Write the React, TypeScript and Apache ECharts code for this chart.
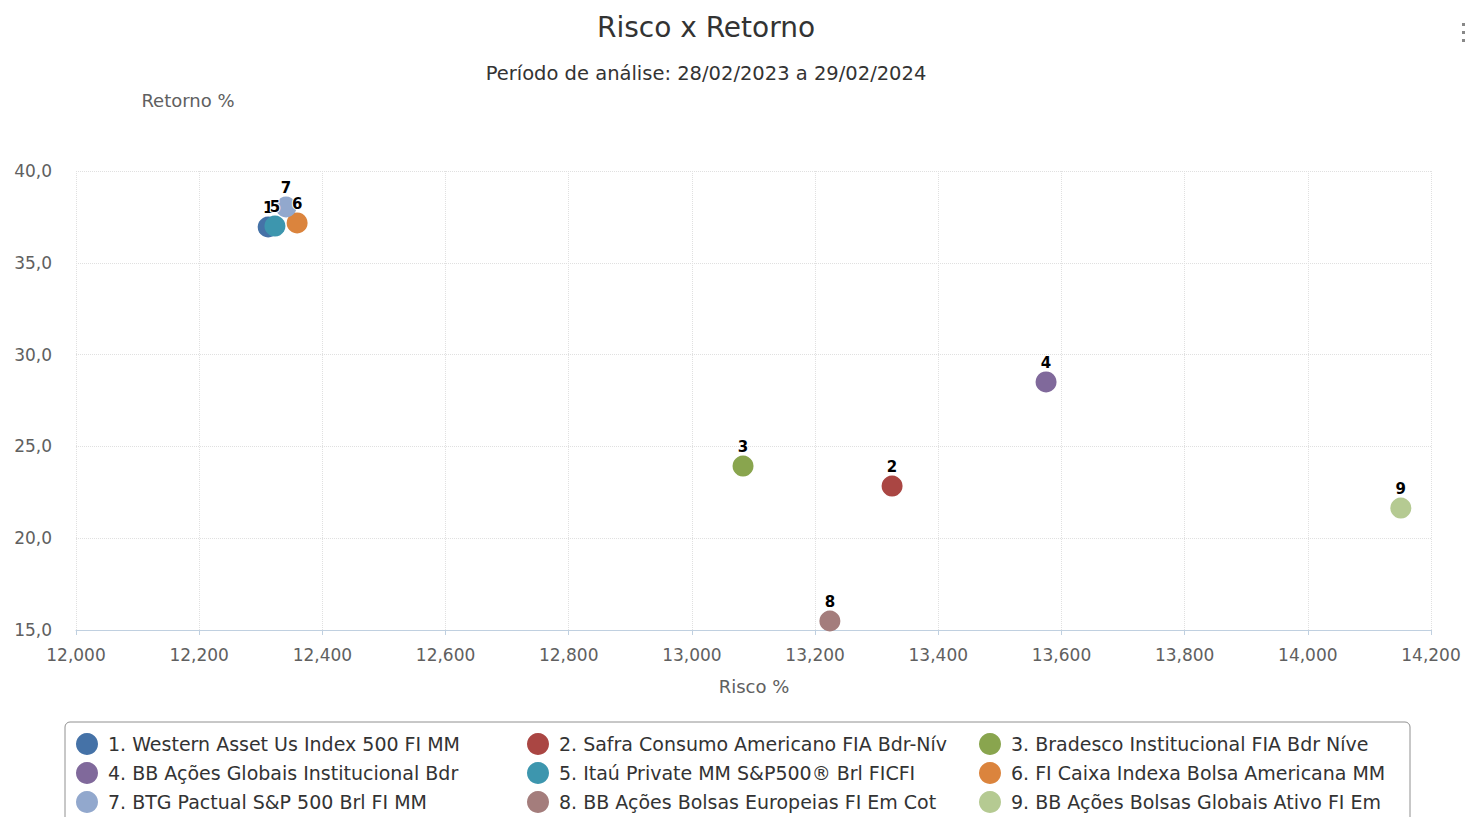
import React, { useEffect, useRef } from "react";
import * as echarts from "echarts";

const fundNames = [
  "1. Western Asset Us Index 500 FI MM",
  "2. Safra Consumo Americano FIA Bdr-Nív",
  "3. Bradesco Institucional FIA Bdr Níve",
  "4. BB Ações Globais Institucional Bdr",
  "5. Itaú Private MM S&P500® Brl FICFI",
  "6. FI Caixa Indexa Bolsa Americana MM",
  "7. BTG Pactual S&P 500 Brl FI MM",
  "8. BB Ações Bolsas Europeias FI Em Cot",
  "9. BB Ações Bolsas Globais Ativo FI Em",
];
const riskValues = [12.312, 13.325, 13.083, 13.575, 12.323, 12.359, 12.341, 13.224, 14.151];
const returnValues = [36.95, 22.84, 23.93, 28.51, 37.0, 37.17, 38.04, 15.49, 21.64];
const colors = ["#4572A7", "#AA4643", "#89A54E", "#80699B", "#3D96AE", "#DB843D", "#92A8CD", "#A47D7C", "#B5CA92"];
const titleText = "Risco x Retorno";
const subtitleText = "Período de análise: 28/02/2023 a 29/02/2024";

const FONT = "'DejaVu Sans', 'Open Sans', sans-serif";

export default function App() {
  const ref = useRef<HTMLDivElement>(null);
  useEffect(() => {
    if (!ref.current) return;
    const chart = echarts.init(ref.current, undefined, { renderer: "svg" });
    const series = fundNames.map((name, i) => ({
      type: "scatter",
      name,
      data: [[riskValues[i], returnValues[i]]],
      symbol: "circle",
      symbolSize: 21,
      itemStyle: { color: colors[i], opacity: 1 },
      label: {
        show: true,
        position: "top",
        distance: 1,
        formatter: String(i + 1),
        fontFamily: FONT,
        fontWeight: "bold",
        fontSize: 15,
        color: "#000",
        textBorderColor: "#fff",
        textBorderWidth: 2,
      },
    }));
    const cols = [0, 1, 2].map((c) => fundNames.filter((_, i) => i % 3 === c));
    const legendLefts = [76, 527, 979];
    chart.setOption({
      animation: false,
      textStyle: { fontFamily: FONT },
      grid: { left: 76, right: 34, top: 171, bottom: 187, containLabel: false },
      xAxis: {
        type: "value",
        min: 12.0,
        max: 14.2,
        interval: 0.2,
        axisLine: { show: true, lineStyle: { color: "#C0D0E0", width: 1 } },
        axisTick: { show: true, length: 5, lineStyle: { color: "#C0D0E0" } },
        axisLabel: {
          color: "#606060",
          fontSize: 17,
          margin: 16,
          fontFamily: FONT,
          formatter: (v: number) => v.toFixed(3).replace(".", ","),
        },
        splitLine: { show: true, lineStyle: { color: "#E0E0E0", type: "dotted" } },
      },
      yAxis: {
        type: "value",
        min: 15,
        max: 40,
        interval: 5,
        axisLine: { show: false },
        axisTick: { show: false },
        axisLabel: {
          color: "#606060",
          fontSize: 17,
          margin: 24,
          fontFamily: FONT,
          formatter: (v: number) => v.toFixed(1).replace(".", ","),
        },
        splitLine: { show: true, lineStyle: { color: "#E0E0E0", type: "dotted" } },
      },
      legend: cols.map((data, c) => ({
        orient: "vertical",
        left: legendLefts[c],
        top: 733,
        padding: 0,
        height: 82,
        itemGap: 7,
        itemWidth: 22,
        itemHeight: 22,
        icon: "circle",
        selectedMode: false,
        data,
        textStyle: { fontSize: 19, color: "#333", fontFamily: FONT, padding: [0, 0, 0, 5] },
      })),
      graphic: [
        {
          type: "rect",
          shape: { x: 65, y: 722, width: 1345, height: 120, r: 5 },
          style: { fill: "none", stroke: "#909090", lineWidth: 1 },
          z: -1,
        },
        {
          type: "text",
          x: 706,
          y: 27,
          style: {
            text: titleText,
            fontSize: 28,
            fontFamily: FONT,
            fill: "#333",
            align: "center",
            verticalAlign: "middle",
          },
        },
        {
          type: "text",
          x: 706,
          y: 73,
          style: {
            text: subtitleText,
            fontSize: 19.5,
            fontFamily: FONT,
            fill: "#333",
            align: "center",
            verticalAlign: "middle",
          },
        },
        {
          type: "text",
          x: 188,
          y: 100,
          style: {
            text: "Retorno %",
            fontSize: 18,
            fontFamily: FONT,
            fill: "#606060",
            align: "center",
            verticalAlign: "middle",
          },
        },
        {
          type: "text",
          x: 754,
          y: 686,
          style: {
            text: "Risco %",
            fontSize: 18,
            fontFamily: FONT,
            fill: "#606060",
            align: "center",
            verticalAlign: "middle",
          },
        },
        { type: "rect", shape: { x: 1462, y: 23, width: 3, height: 3 }, style: { fill: "#888" } },
        { type: "rect", shape: { x: 1462, y: 31, width: 3, height: 3 }, style: { fill: "#888" } },
        { type: "rect", shape: { x: 1462, y: 39, width: 3, height: 3 }, style: { fill: "#888" } },
      ],
      series,
    });
    return () => chart.dispose();
  }, []);
  return (
    <div
      ref={ref}
      style={{ position: "absolute", left: 0, top: 0, width: 1465, height: 817, background: "#fff" }}
    />
  );
}
